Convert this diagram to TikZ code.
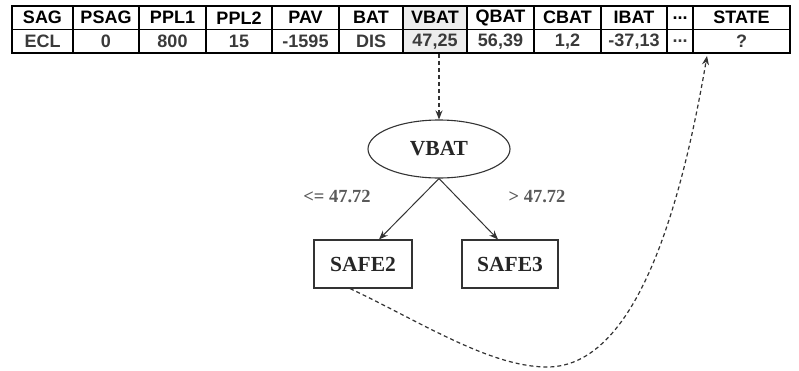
\documentclass[tikz,border=0pt]{standalone}
\usepackage{fontspec}
\setmainfont{Liberation Serif}
\newfontfamily\arialf{Liberation Sans}
\usetikzlibrary{arrows.meta,calc,shapes.geometric}
\newcommand\myellip{...}
\definecolor{cellgray}{HTML}{EDEDED}
\definecolor{valtxt}{HTML}{3A3A3A}
\definecolor{lbltxt}{HTML}{5A5A5A}
\definecolor{edgec}{HTML}{333333}
\tikzset{
  hcell/.style={draw=black, line width=1.8pt, inner sep=0pt, minimum height=23.5pt,
    font=\arialf\bfseries\fontsize{18}{20}\selectfont, text=black},
  vcell/.style={hcell, text=valtxt},
  treenode/.style={draw=edgec, line width=1.1pt, font=\bfseries\fontsize{21.5}{23}\selectfont, text=black!85},
  edgelbl/.style={font=\bfseries\fontsize{18.5}{20}\selectfont, text=lbltxt},
  solidarrow/.style={draw=edgec, line width=1pt, -{Stealth[length=9pt,width=7pt]}},
  dasharrow/.style={draw=edgec, line width=1.2pt, dash pattern=on 4pt off 3pt, -{Stealth[length=9pt,width=7pt]}}
}
\begin{document}
\begin{tikzpicture}[x=1pt,y=-1pt]
\useasboundingbox (0,0) rectangle (799,370);
\foreach \i/\l/\r/\h/\v in {1/12/73/SAG/ECL, 2/73/139/PSAG/0, 3/139/206/PPL1/800, 4/206/272/PPL2/15,
  5/272/339/PAV/-1595, 6/339/403/BAT/DIS, 7/403/467/VBAT/{47,25}, 8/467/534/QBAT/{56,39},
  9/534/601/CBAT/{1,2}, 10/601/667/IBAT/{-37,13}, 11/667/693/\myellip/\myellip, 12/693/790/STATE/?}{
  \pgfmathsetmacro{\w}{\r-\l}
  \pgfmathsetmacro{\c}{(\r+\l)/2}
  \ifnum\i=7
    \node[hcell, fill=cellgray, minimum width=\w pt] (h\i) at (\c,17.75) {\h};
    \node[vcell, fill=cellgray, minimum width=\w pt] (v\i) at (\c,41.25) {\v};
  \else
    \node[hcell, minimum width=\w pt] (h\i) at (\c,17.75) {\h};
    \node[vcell, minimum width=\w pt] (v\i) at (\c,41.25) {\v};
  \fi
}
\node[treenode, ellipse, minimum width=142pt, minimum height=58pt, inner sep=0pt] (vbat) at (439,149) {VBAT};
\node[treenode, rectangle, minimum width=98pt, minimum height=48pt] (safe2) at (363,264) {SAFE2};
\node[treenode, rectangle, minimum width=96pt, minimum height=48pt] (safe3) at (510,264) {SAFE3};
\node[edgelbl] (lbl1) at (337,197) {<= 47.72};
\node[edgelbl] (lbl2) at (537,197) {> 47.72};
\coordinate (cbot) at (547,367);
\draw[dasharrow] (v7.south -| vbat.north) -- (vbat.north);
\draw[solidarrow] (vbat.south) -- ([xshift=16pt]safe2.north);
\draw[solidarrow] (vbat.south) -- ([xshift=-12pt]safe3.north);
\draw[dasharrow] ([xshift=-13pt]safe2.south) .. controls +(70,33) and +(-57,0) .. (cbot)
   .. controls +(73,0) and +(-35,205) .. ([xshift=-34.5pt,yshift=-2pt]v12.south);
\end{tikzpicture}
\end{document}
